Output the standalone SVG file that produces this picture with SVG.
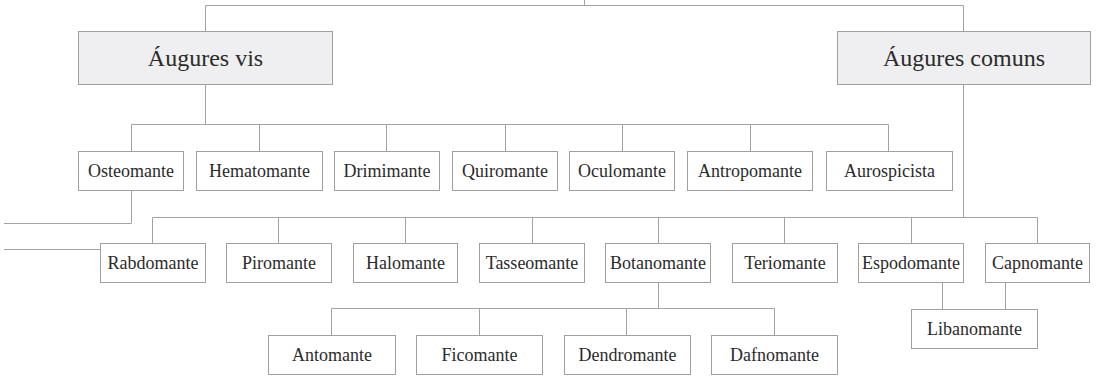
<svg xmlns="http://www.w3.org/2000/svg" width="1097" height="377" viewBox="0 0 1097 377">
<style>
.bg{fill:#ffffff}
.c{fill:none;stroke:#a3a3a3;stroke-width:1}
.b{fill:#ffffff;stroke:#a0a0a0;stroke-width:1}
.B{fill:#efeff1;stroke:#a0a0a0;stroke-width:1}
.t{font-family:"Liberation Serif","Times New Roman",serif;font-size:18px;fill:#2b2b2b;text-anchor:middle}
.T{font-family:"Liberation Serif","Times New Roman",serif;font-size:24px;fill:#2b2b2b;text-anchor:middle}
</style>
<rect class="bg" x="0" y="0" width="1097" height="377"/>
<g id="connectors" class="c">
<path d="M584.5,0 V5.5 M205.5,5.5 H963.5 M205.5,5.5 V31.5 M963.5,5.5 V31.5"/>
<path d="M205.5,84.5 V124.5 M131.5,124.5 H888.5 M131.5,124.5 V151.5 M259.5,124.5 V151.5 M386.5,124.5 V151.5 M505.5,124.5 V151.5 M622.5,124.5 V151.5 M750.5,124.5 V151.5 M888.5,124.5 V151.5"/>
<path d="M131.5,190.5 V223.5 H4 M4,249.5 H100.5"/>
<path d="M963.5,84.5 V217.5 M152.5,217.5 H1037.5 M152.5,217.5 V243.5 M278.5,217.5 V243.5 M405.5,217.5 V243.5 M532.5,217.5 V243.5 M658.5,217.5 V243.5 M784.5,217.5 V243.5 M911.5,217.5 V243.5 M1037.5,217.5 V243.5"/>
<path d="M658.5,282.5 V308.5 M331.5,308.5 H774.5 M331.5,308.5 V335.5 M479.5,308.5 V335.5 M626.5,308.5 V335.5 M774.5,308.5 V335.5"/>
<path d="M942.5,282.5 V309.5 M1005.5,282.5 V309.5"/>
</g>
<g id="augures-vis"><rect class="B" x="78.5" y="31.5" width="254" height="53"/><text class="T" x="205.5" y="65.5">Áugures vis</text></g>
<g id="augures-comuns"><rect class="B" x="837.5" y="31.5" width="253" height="53"/><text class="T" x="964" y="65.5">Áugures comuns</text></g>
<g id="osteomante"><rect class="b" x="78.5" y="151.5" width="105" height="39"/><text class="t" x="131" y="176.5">Osteomante</text></g>
<g id="hematomante"><rect class="b" x="196.5" y="151.5" width="126" height="39"/><text class="t" x="259.5" y="176.5">Hematomante</text></g>
<g id="drimimante"><rect class="b" x="334.5" y="151.5" width="105" height="39"/><text class="t" x="387" y="176.5">Drimimante</text></g>
<g id="quiromante"><rect class="b" x="452.5" y="151.5" width="105" height="39"/><text class="t" x="505" y="176.5">Quiromante</text></g>
<g id="oculomante"><rect class="b" x="569.5" y="151.5" width="105" height="39"/><text class="t" x="622" y="176.5">Oculomante</text></g>
<g id="antropomante"><rect class="b" x="687.5" y="151.5" width="125" height="39"/><text class="t" x="750" y="176.5">Antropomante</text></g>
<g id="aurospicista"><rect class="b" x="826.5" y="151.5" width="126" height="39"/><text class="t" x="889.5" y="176.5">Aurospicista</text></g>
<g id="rabdomante"><rect class="b" x="100.5" y="243.5" width="105" height="39"/><text class="t" x="153" y="268.5">Rabdomante</text></g>
<g id="piromante"><rect class="b" x="226.5" y="243.5" width="105" height="39"/><text class="t" x="279" y="268.5">Piromante</text></g>
<g id="halomante"><rect class="b" x="353.5" y="243.5" width="104" height="39"/><text class="t" x="405.5" y="268.5">Halomante</text></g>
<g id="tasseomante"><rect class="b" x="479.5" y="243.5" width="105" height="39"/><text class="t" x="532" y="268.5">Tasseomante</text></g>
<g id="botanomante"><rect class="b" x="605.5" y="243.5" width="105" height="39"/><text class="t" x="658" y="268.5">Botanomante</text></g>
<g id="teriomante"><rect class="b" x="732.5" y="243.5" width="105" height="39"/><text class="t" x="785" y="268.5">Teriomante</text></g>
<g id="espodomante"><rect class="b" x="858.5" y="243.5" width="105" height="39"/><text class="t" x="911" y="268.5">Espodomante</text></g>
<g id="capnomante"><rect class="b" x="985.5" y="243.5" width="104" height="39"/><text class="t" x="1037.5" y="268.5">Capnomante</text></g>
<g id="antomante"><rect class="b" x="268.5" y="335.5" width="127" height="39"/><text class="t" x="332" y="360.5">Antomante</text></g>
<g id="ficomante"><rect class="b" x="416.5" y="335.5" width="126" height="39"/><text class="t" x="479.5" y="360.5">Ficomante</text></g>
<g id="dendromante"><rect class="b" x="564.5" y="335.5" width="126" height="39"/><text class="t" x="627.5" y="360.5">Dendromante</text></g>
<g id="dafnomante"><rect class="b" x="711.5" y="335.5" width="126" height="39"/><text class="t" x="774.5" y="360.5">Dafnomante</text></g>
<g id="libanomante"><rect class="b" x="911.5" y="309.5" width="126" height="39"/><text class="t" x="974.5" y="334.5">Libanomante</text></g>
</svg>
